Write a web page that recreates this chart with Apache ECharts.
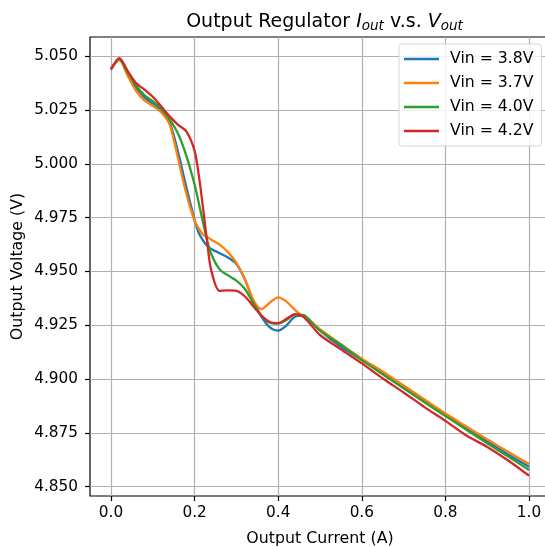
<!DOCTYPE html>
<html>
<head>
<meta charset="utf-8">
<script src="https://cdn.jsdelivr.net/npm/echarts@6/dist/echarts.min.js"></script>
<style>
html,body{margin:0;padding:0;background:#fff;}
#chart{width:545px;height:547px;}
</style>
</head>
<body>
<div id="chart"></div>
<script>
// ---- data ----
const current = [0, 0.02, 0.04, 0.06, 0.08, 0.10, 0.12, 0.14, 0.16, 0.18, 0.20, 0.21, 0.22, 0.23, 0.24, 0.26, 0.28, 0.30, 0.32, 0.34, 0.36, 0.38, 0.40, 0.42, 0.44, 0.46, 0.48, 0.50, 0.55, 0.60, 0.65, 0.70, 0.75, 0.80, 0.85, 0.90, 0.95, 1.00];
const vin38 = [5.0440, 5.0485, 5.0420, 5.0355, 5.0310, 5.0280, 5.0250, 5.0195, 5.0060, 4.9895, 4.9740, 4.9680, 4.9645, 4.9620, 4.9605, 4.9585, 4.9565, 4.9535, 4.9465, 4.9365, 4.9290, 4.9240, 4.9225, 4.9250, 4.9290, 4.9295, 4.9265, 4.9225, 4.9150, 4.9090, 4.9025, 4.8960, 4.8900, 4.8835, 4.8772, 4.8710, 4.8650, 4.8593];
const vin37 = [5.0440, 5.0482, 5.0410, 5.0340, 5.0295, 5.0270, 5.0240, 5.0185, 5.0030, 4.9865, 4.9735, 4.9700, 4.9672, 4.9660, 4.9648, 4.9625, 4.9590, 4.9540, 4.9465, 4.9370, 4.9325, 4.9355, 4.9380, 4.9360, 4.9322, 4.9290, 4.9265, 4.9232, 4.9162, 4.9095, 4.9035, 4.8970, 4.8905, 4.8840, 4.8780, 4.8720, 4.8662, 4.8605];
const vin40 = [5.0440, 5.0486, 5.0425, 5.0365, 5.0320, 5.0292, 5.0258, 5.0208, 5.0142, 5.0040, 4.9905, 4.9820, 4.9730, 4.9645, 4.9580, 4.9510, 4.9482, 4.9458, 4.9420, 4.9355, 4.9295, 4.9262, 4.9258, 4.9275, 4.9300, 4.9298, 4.9262, 4.9225, 4.9160, 4.9088, 4.9022, 4.8957, 4.8892, 4.8828, 4.8765, 4.8702, 4.8640, 4.8578];
const vin42 = [5.0438, 5.0492, 5.0432, 5.0376, 5.0345, 5.0312, 5.0268, 5.0222, 5.0183, 5.0152, 5.0062, 4.9950, 4.9800, 4.9640, 4.9505, 4.9410, 4.9412, 4.9410, 4.9385, 4.9340, 4.9295, 4.9265, 4.9260, 4.9280, 4.9302, 4.9290, 4.9248, 4.9205, 4.9138, 4.9073, 4.9003, 4.8938, 4.8870, 4.8806, 4.8738, 4.8685, 4.8622, 4.8551];
const seriesNames = ['Vin = 3.8V', 'Vin = 3.7V', 'Vin = 4.0V', 'Vin = 4.2V'];
const xTicks = [0.0, 0.2, 0.4, 0.6, 0.8, 1.0];
const yTicks = [4.850, 4.875, 4.900, 4.925, 4.950, 4.975, 5.000, 5.025, 5.050];

// ---- chart ----
const colors = ['#1f77b4', '#ff7f0e', '#2ca02c', '#d62728'];
const FONT = 'DejaVu Sans';
const FS = 15.3;
const FN = 15.8;
const pairs = arr => current.map((x, i) => [x, arr[i]]);
const allSeries = [vin38, vin37, vin40, vin42];

const chart = echarts.init(document.getElementById('chart'), null, {renderer: 'canvas'});
const option = {
  animation: false,
  backgroundColor: '#ffffff',
  color: colors,
  title: {
    text: 'Output Regulator {i|I}{s|out} v.s. {i|V}{s|out}',
    left: 319.5, top: 6, textAlign: 'center',
    textStyle: {
      fontFamily: FONT, fontSize: 19, fontWeight: 'normal', color: '#000',
      rich: {
        i: {fontFamily: FONT, fontSize: 19, fontStyle: 'italic', color: '#000'},
        s: {fontFamily: FONT, fontSize: 13.5, fontStyle: 'italic', color: '#000', padding: [8, 0, 0, 0]}
      }
    }
  },
  legend: {
    orient: 'vertical', left: 399, top: 44,
    padding: [7, 8, 7, 5],
    itemGap: 8, itemWidth: 35, itemHeight: 2.4, icon: 'rect',
    backgroundColor: 'rgba(255,255,255,0.8)', borderColor: '#d5d5d5', borderWidth: 1, borderRadius: 3,
    textStyle: {fontFamily: FONT, fontSize: 15.7, color: '#000', lineHeight: 16, padding: [0, 0, 0, 6]},
    data: seriesNames
  },
  grid: [
    {left: 90, right: -5, top: 37, bottom: 51, show: true, borderColor: '#000', borderWidth: 1.2, backgroundColor: 'transparent', containLabel: false, outerBoundsMode: 'none'},
    {left: 111, right: 16, top: 37, bottom: 51, show: false, containLabel: false, outerBoundsMode: 'none'},
    {left: 90, right: -5, top: 56.3, bottom: 60.3, show: false, containLabel: false, outerBoundsMode: 'none'}
  ],
  xAxis: [
    {gridIndex: 0, type: 'value', min: -0.05, max: 1.05,
     axisLine: {show: false}, axisTick: {show: false}, axisLabel: {show: false}, splitLine: {show: false},
     name: 'Output Current (A)', nameLocation: 'middle', nameGap: 35,
     nameTextStyle: {fontFamily: FONT, fontSize: FN, color: '#000'}},
    {gridIndex: 1, type: 'value', min: xTicks[0], max: xTicks[xTicks.length - 1], interval: xTicks[1] - xTicks[0],
     axisLine: {show: false, onZero: false},
     axisTick: {show: true, length: 5, inside: false, lineStyle: {color: '#000', width: 1.2}},
     axisLabel: {show: true, margin: 10, fontFamily: FONT, fontSize: FS, color: '#000', formatter: v => v.toFixed(1)},
     splitLine: {show: true, lineStyle: {color: '#b0b0b0', width: 1.2}}},
    {gridIndex: 2, type: 'value', min: 0, max: 1, show: false}
  ],
  yAxis: [
    {gridIndex: 0, type: 'value', min: 4.84568, max: 5.05897,
     axisLine: {show: false}, axisTick: {show: false}, axisLabel: {show: false}, splitLine: {show: false},
     name: 'Output Voltage (V)', nameLocation: 'middle', nameGap: 64,
     nameTextStyle: {fontFamily: FONT, fontSize: FN, color: '#000'}},
    {gridIndex: 1, type: 'value', min: 0, max: 1, show: false},
    {gridIndex: 2, type: 'value', min: yTicks[0], max: yTicks[yTicks.length - 1], interval: 0.025,
     axisLine: {show: false, onZero: false},
     axisTick: {show: true, length: 5, inside: false, lineStyle: {color: '#000', width: 1.2}},
     axisLabel: {show: true, margin: 12, fontFamily: FONT, fontSize: FS, color: '#000', formatter: v => v.toFixed(3)},
     splitLine: {show: true, lineStyle: {color: '#b0b0b0', width: 1.2}}}
  ],
  series: allSeries.map((arr, k) => ({
    name: seriesNames[k], type: 'line', xAxisIndex: 0, yAxisIndex: 0,
    data: pairs(arr), smooth: 0.3, symbol: 'none', showSymbol: false,
    lineStyle: {color: colors[k], width: 2.3}, itemStyle: {color: colors[k]}, z: 3 + k
  }))
};
chart.setOption(option);
</script>
</body>
</html>
